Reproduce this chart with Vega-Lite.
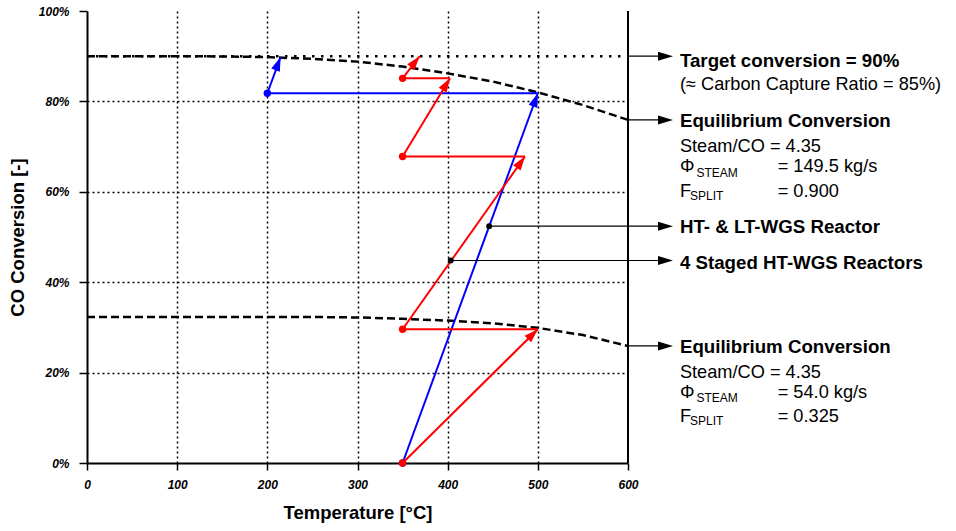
{
  "$schema": "https://vega.github.io/schema/vega-lite/v6.json",
  "width": 541,
  "height": 452,
  "autosize": {"type": "none"},
  "padding": {"left": 87, "top": 11, "right": 328, "bottom": 68},
  "background": "white",
  "config": {"view": {"stroke": null}, "font": "Liberation Sans"},
  "datasets": {
    "curves": [
      {"curve": "upper", "x": 0, "y": 90.0},
      {"curve": "upper", "x": 100, "y": 90.0},
      {"curve": "upper", "x": 150, "y": 89.95},
      {"curve": "upper", "x": 200, "y": 89.8},
      {"curve": "upper", "x": 250, "y": 89.4},
      {"curve": "upper", "x": 300, "y": 88.8},
      {"curve": "upper", "x": 350, "y": 87.7},
      {"curve": "upper", "x": 400, "y": 86.2},
      {"curve": "upper", "x": 450, "y": 84.4},
      {"curve": "upper", "x": 500, "y": 82.0},
      {"curve": "upper", "x": 550, "y": 79.2},
      {"curve": "upper", "x": 600, "y": 75.9},
      {"curve": "lower", "x": 0, "y": 32.3},
      {"curve": "lower", "x": 100, "y": 32.3},
      {"curve": "lower", "x": 200, "y": 32.3},
      {"curve": "lower", "x": 250, "y": 32.3},
      {"curve": "lower", "x": 300, "y": 32.2},
      {"curve": "lower", "x": 350, "y": 31.9},
      {"curve": "lower", "x": 400, "y": 31.5},
      {"curve": "lower", "x": 450, "y": 30.9},
      {"curve": "lower", "x": 500, "y": 29.9},
      {"curve": "lower", "x": 550, "y": 28.3},
      {"curve": "lower", "x": 600, "y": 25.9}
    ],
    "target": [{"x": 0, "y": 90, "x2": 600}],
    "frame": [{"x": 600, "y": 0, "y2": 100}],
    "segs": [
      {"s": "HT- & LT-WGS", "x": 350, "y": 0, "x2": 500, "y2": 81.8},
      {"s": "HT- & LT-WGS", "x": 500, "y": 81.8, "x2": 200, "y2": 81.8},
      {"s": "HT- & LT-WGS", "x": 200, "y": 81.8, "x2": 214.7, "y2": 89.8},
      {"s": "4 Staged HT-WGS", "x": 350, "y": 0, "x2": 500, "y2": 29.6},
      {"s": "4 Staged HT-WGS", "x": 500, "y": 29.6, "x2": 350, "y2": 29.6},
      {"s": "4 Staged HT-WGS", "x": 350, "y": 29.6, "x2": 485.7, "y2": 67.8},
      {"s": "4 Staged HT-WGS", "x": 485.7, "y": 67.8, "x2": 350, "y2": 67.8},
      {"s": "4 Staged HT-WGS", "x": 350, "y": 67.8, "x2": 402.6, "y2": 85.1},
      {"s": "4 Staged HT-WGS", "x": 402.6, "y": 85.1, "x2": 350, "y2": 85.1},
      {"s": "4 Staged HT-WGS", "x": 350, "y": 85.1, "x2": 369, "y2": 90}
    ],
    "heads": [
      {"s": "HT- & LT-WGS", "x": 500, "y": 81.8, "heading": 20.1},
      {"s": "HT- & LT-WGS", "x": 214.7, "y": 89.8, "heading": 21.1},
      {"s": "4 Staged HT-WGS", "x": 500, "y": 29.6, "heading": 45.3},
      {"s": "4 Staged HT-WGS", "x": 485.7, "y": 67.8, "heading": 35.5},
      {"s": "4 Staged HT-WGS", "x": 402.6, "y": 85.1, "heading": 31.9},
      {"s": "4 Staged HT-WGS", "x": 369, "y": 90, "heading": 39.2}
    ],
    "dots": [
      {"s": "HT- & LT-WGS", "x": 200, "y": 81.8},
      {"s": "HT- & LT-WGS", "x": 350, "y": 0},
      {"s": "4 Staged HT-WGS", "x": 350, "y": 0},
      {"s": "4 Staged HT-WGS", "x": 350, "y": 29.6},
      {"s": "4 Staged HT-WGS", "x": 350, "y": 67.8},
      {"s": "4 Staged HT-WGS", "x": 350, "y": 85.1}
    ],
    "pointers": [
      {"x": 600, "y": 90, "x2": 645},
      {"x": 600, "y": 75.9, "x2": 645},
      {"x": 446, "y": 52.4, "x2": 645},
      {"x": 403.4, "y": 44.8, "x2": 645},
      {"x": 600, "y": 25.9, "x2": 645}
    ],
    "pointerHeads": [
      {"x": 649.9, "y": 90, "heading": 90},
      {"x": 649.9, "y": 75.9, "heading": 90},
      {"x": 649.9, "y": 52.4, "heading": 90},
      {"x": 649.9, "y": 44.8, "heading": 90},
      {"x": 649.9, "y": 25.9, "heading": 90}
    ],
    "markers": [
      {"x": 446, "y": 52.4},
      {"x": 403.4, "y": 44.8}
    ],
    "headings": [
      {"label": "Target conversion = 90%", "x": 657.6, "y": 87.7},
      {"label": "Equilibrium Conversion", "x": 657.6, "y": 74.3},
      {"label": "HT- & LT-WGS Reactor", "x": 657.6, "y": 50.8},
      {"label": "4 Staged HT-WGS Reactors", "x": 657.6, "y": 42.85},
      {"label": "Equilibrium Conversion", "x": 657.6, "y": 24.3}
    ],
    "details": [
      {"label": "(≈ Carbon Capture Ratio = 85%)", "x": 657.6, "y": 82.5},
      {"label": "Steam/CO = 4.35", "x": 657.6, "y": 68.9},
      {"label": "Φ", "x": 657.6, "y": 64.45},
      {"label": "= 149.5 kg/s", "x": 766, "y": 64.45},
      {"label": "F", "x": 657.6, "y": 58.9},
      {"label": "= 0.900", "x": 766, "y": 58.9},
      {"label": "Steam/CO = 4.35", "x": 657.6, "y": 18.9},
      {"label": "Φ", "x": 657.6, "y": 14.3},
      {"label": "= 54.0 kg/s", "x": 766, "y": 14.3},
      {"label": "F", "x": 657.6, "y": 9.15},
      {"label": "= 0.325", "x": 766, "y": 9.15}
    ],
    "subs": [
      {"label": "STEAM", "x": 676, "y": 63.35},
      {"label": "SPLIT", "x": 668.7, "y": 58.2},
      {"label": "STEAM", "x": 676, "y": 13.6},
      {"label": "SPLIT", "x": 668.7, "y": 8.45}
    ]
  },
  "encoding": {
    "x": {
      "field": "x",
      "type": "quantitative",
      "scale": {"domain": [0, 600], "nice": false, "zero": false},
      "title": "Temperature [°C]",
      "axis": {
        "values": [0, 100, 200, 300, 400, 500, 600],
        "grid": true,
        "gridColor": "black",
        "gridDash": [2, 3],
        "gridWidth": 1.5,
        "gridOpacity": {"condition": {"test": "datum.value == 0 || datum.value == 600", "value": 0}, "value": 1},
        "domainColor": "black",
        "domainWidth": 2,
        "tickColor": "black",
        "tickSize": 7,
        "tickWidth": 1.5,
        "labelFont": "Liberation Sans",
        "labelFontSize": 12,
        "labelFontWeight": "bold",
        "labelFontStyle": "italic",
        "labelColor": "black",
        "labelPadding": 9,
        "labelFlush": false,
        "labelOverlap": false,
        "titleFont": "Liberation Sans",
        "titleFontSize": 18.5,
        "titleFontWeight": "bold",
        "titleColor": "black",
        "titlePadding": 13
      }
    },
    "y": {
      "field": "y",
      "type": "quantitative",
      "scale": {"domain": [0, 100], "nice": false, "zero": false},
      "title": "CO Conversion [-]",
      "axis": {
        "values": [0, 20, 40, 60, 80, 100],
        "labelExpr": "datum.value + '%'",
        "grid": true,
        "gridColor": "black",
        "gridDash": [2, 3],
        "gridWidth": 1.5,
        "gridOpacity": {"condition": {"test": "datum.value == 0 || datum.value == 100", "value": 0}, "value": 1},
        "domainColor": "black",
        "domainWidth": 2,
        "tickColor": "black",
        "tickSize": 8,
        "tickWidth": 1.5,
        "labelFont": "Liberation Sans",
        "labelFontSize": 12,
        "labelFontWeight": "bold",
        "labelFontStyle": "italic",
        "labelColor": "black",
        "labelPadding": 10,
        "labelFlush": false,
        "labelOverlap": false,
        "titleFont": "Liberation Sans",
        "titleFontSize": 18.5,
        "titleFontWeight": "bold",
        "titleColor": "black",
        "titlePadding": 11
      }
    }
  },
  "layer": [
    {
      "data": {"name": "frame"},
      "mark": {"type": "rule", "color": "black", "strokeWidth": 2},
      "encoding": {"y2": {"field": "y2"}}
    },
    {
      "data": {"name": "curves"},
      "mark": {"type": "line", "color": "black", "strokeWidth": 2.5, "strokeDash": [8, 4]},
      "encoding": {"detail": {"field": "curve"}}
    },
    {
      "data": {"name": "target"},
      "mark": {"type": "rule", "color": "black", "strokeWidth": 2.5, "strokeDash": [2.5, 6.5]},
      "encoding": {"x2": {"field": "x2"}}
    },
    {
      "data": {"name": "segs"},
      "mark": {"type": "rule", "strokeWidth": 2},
      "encoding": {
        "x2": {"field": "x2"},
        "y2": {"field": "y2"},
        "color": {"field": "s", "type": "nominal", "scale": {"domain": ["HT- & LT-WGS", "4 Staged HT-WGS"], "range": ["#0000ff", "#ff0000"]}, "legend": null}
      }
    },
    {
      "data": {"name": "heads"},
      "mark": {"type": "point", "filled": true, "opacity": 1, "shape": "M0,0L0.33,1L-0.33,1Z", "size": 784},
      "encoding": {
        "angle": {"field": "heading", "type": "quantitative", "scale": null},
        "color": {"field": "s", "type": "nominal", "scale": {"domain": ["HT- & LT-WGS", "4 Staged HT-WGS"], "range": ["#0000ff", "#ff0000"]}, "legend": null}
      }
    },
    {
      "data": {"name": "dots"},
      "mark": {"type": "point", "filled": true, "opacity": 1, "shape": "circle", "size": 55},
      "encoding": {
        "color": {"field": "s", "type": "nominal", "scale": {"domain": ["HT- & LT-WGS", "4 Staged HT-WGS"], "range": ["#0000ff", "#ff0000"]}, "legend": null}
      }
    },
    {
      "data": {"name": "pointers"},
      "mark": {"type": "rule", "color": "black", "strokeWidth": 1.2},
      "encoding": {"x2": {"field": "x2"}}
    },
    {
      "data": {"name": "pointerHeads"},
      "mark": {"type": "point", "filled": true, "opacity": 1, "color": "black", "shape": "M0,0L0.3,1L-0.3,1Z", "size": 900},
      "encoding": {"angle": {"field": "heading", "type": "quantitative", "scale": null}}
    },
    {
      "data": {"name": "markers"},
      "mark": {"type": "point", "filled": true, "opacity": 1, "color": "black", "shape": "circle", "size": 35}
    },
    {
      "data": {"name": "headings"},
      "mark": {"type": "text", "align": "left", "baseline": "alphabetic", "font": "Liberation Sans", "fontSize": 18.7, "fontWeight": "bold", "color": "black"},
      "encoding": {"text": {"field": "label"}}
    },
    {
      "data": {"name": "details"},
      "mark": {"type": "text", "align": "left", "baseline": "alphabetic", "font": "Liberation Sans", "fontSize": 18.2, "color": "black"},
      "encoding": {"text": {"field": "label"}}
    },
    {
      "data": {"name": "subs"},
      "mark": {"type": "text", "align": "left", "baseline": "alphabetic", "font": "Liberation Sans", "fontSize": 12, "color": "black"},
      "encoding": {"text": {"field": "label"}}
    }
  ]
}
